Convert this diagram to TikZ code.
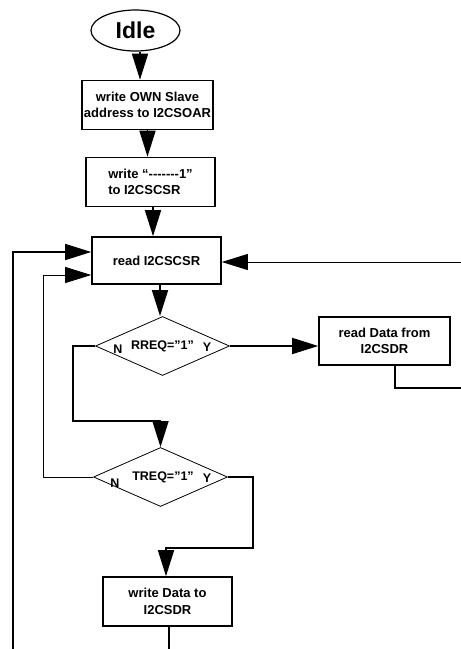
\documentclass[tikz,border=0pt]{standalone}
\usepackage{fontspec}
\setmainfont{Liberation Sans}
\usetikzlibrary{arrows.meta, shapes.geometric, calc}
\tikzset{
	procbox/.style={rectangle, draw=black, line width=1.6pt, align=center, minimum width=129pt, minimum height=49pt, inner sep=2pt, font=\fontsize{13}{16.5}\selectfont\bfseries},
	decide/.style={diamond, draw=black, line width=0.8pt, inner sep=0pt, aspect=2.3, minimum width=134pt, minimum height=59pt, font=\fontsize{12.5}{15}\selectfont\bfseries},
	branchlbl/.style={font=\fontsize{12.5}{15}\selectfont\bfseries, inner sep=0pt},
	arrow/.style={-{Triangle[length=26pt, width=16pt]}, line width=1.6pt},
	thinarrow/.style={-{Triangle[length=26pt, width=16pt]}, line width=0.9pt},
	link/.style={line width=1.6pt},
}
\begin{document}
\begin{tikzpicture}[x=1pt, y=-1pt]
		\useasboundingbox (0,0) rectangle (461,649);
		\node[ellipse, draw=black, line width=1.2pt, minimum width=89pt, minimum height=41pt, inner sep=0pt, font=\fontsize{23}{26}\selectfont\bfseries] (idle) at (135.5,30.5) {Idle};
		\node[procbox] (own) at (147.5,105) {write OWN Slave\\address to I2CSOAR};
		\node[procbox, align=left] (ctrl) at (150.5,182) {write “-{}-{}-{}-{}-{}-{}-{}1”\\to I2CSCSR};
		\node[procbox, minimum height=47pt] (rdcsr) at (156.5,260.5) {read I2CSCSR};
		\node[decide] (rreq) at (162.5,346) {RREQ=”1”};
		\node[branchlbl] (rn) at (118,349) {N};
		\node[branchlbl] (ry) at (207,347) {Y};
		\node[procbox, minimum width=131pt, minimum height=48pt] (rddata) at (384.5,341) {read Data from\\I2CSDR};
		\node[decide] (treq) at (160.5,477) {\hspace*{5pt}TREQ=”1”};
		\node[branchlbl] (tn) at (115,483) {N};
		\node[branchlbl] (ty) at (207,478) {Y};
		\node[procbox] (wrdata) at (167.5,601.5) {write Data to\\I2CSDR};
		\coordinate (rtop) at (461,262);
		\coordinate (redge) at (461,388);
		\coordinate (lbot) at (13,649);
		\draw[arrow] ($(idle.south)+(4.5,0)$) -- ($(idle.south |- own.north)+(4.5,0)$);
		\draw[arrow] (own.south) -- (own.south |- ctrl.north);
		\draw[arrow] ($(ctrl.south)+(2.5,0)$) -- ($(ctrl.south |- rdcsr.north)+(2.5,0)$);
		\draw[arrow] ($(rdcsr.south)+(3.5,0)$) -- ($(rdcsr.south |- rreq.north)+(3.5,0)$);
		\draw[arrow] (rreq.east) -- (rreq.east -| rddata.west);
		\draw[link] ($(rddata.south)+(10.5,0)$) |- (redge);
		\draw[thinarrow] (rtop) -- (rtop -| rdcsr.east);
		\draw[arrow] (rreq.west) -- ++(-22,0) |- ($(treq.north)+(0,-26)$) -- (treq.north);
		\draw[thinarrow] (treq.west) -- ++(-50,0) |- ($(rdcsr.west)+(0,14.5)$);
		\draw[arrow] (lbot) |- ($(rdcsr.west)+(0,-8.5)$);
		\draw[arrow] (treq.east) -- ++(25,0) |- ($(wrdata.north)+(-1.5,-28)$) -- ($(wrdata.north)+(-1.5,0)$);
		\draw[link] ($(wrdata.south)+(1.5,0)$) -- ($(wrdata.south |- lbot)+(1.5,0)$);
	\end{tikzpicture}
\end{document}
